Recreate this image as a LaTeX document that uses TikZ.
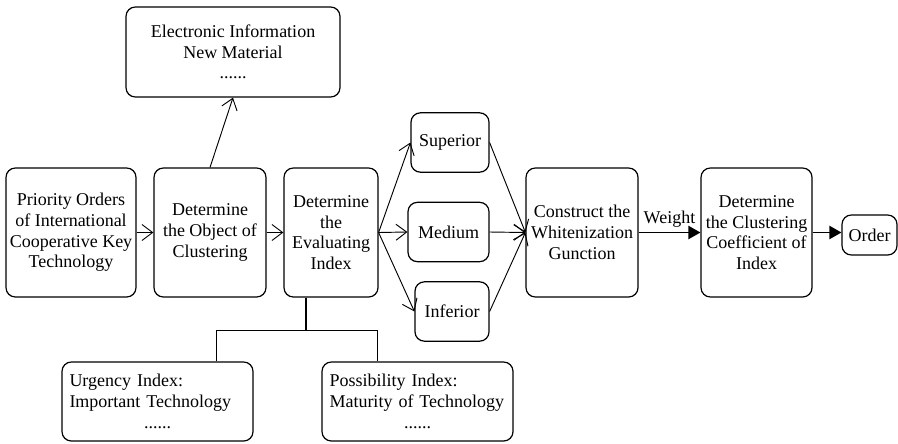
\documentclass[tikz,border=0pt]{standalone}
\usepackage{fontspec}
\setmainfont{Liberation Serif}
\usetikzlibrary{arrows.meta}

\begin{document}
\begin{tikzpicture}[x=0.75pt,y=-0.75pt,%
  font=\fontsize{13.5}{15.5}\selectfont,%
  box/.style={draw,rounded corners=7pt,line width=0.9pt,align=center,inner sep=2pt},%
  stage/.style={box,minimum height=96.75pt},%
  grade/.style={box,minimum height=44.5pt},%
  listbox/.style={box,minimum width=143.25pt,minimum height=59.25pt,%
    text width=132pt,align=left},%
  link/.style={-{Straight Barb[length=8pt,width=12pt]},line width=0.7pt},%
  flow/.style={-{Triangle[length=9pt,width=10pt]},line width=0.9pt}]

  \useasboundingbox (0,0) rectangle (898,443);

  % main chain
  \node [stage,minimum width=97.5pt] (prior) at (71,232.5)
    {Priority Orders\\of International\\Cooperative Key\\Technology};
  \node [stage,minimum width=84pt] (object) at (210,232.5)
    {Determine\\the Object of\\Clustering};
  \node [stage,minimum width=70.5pt] (index) at (331,232.5)
    {Determine\\the\\Evaluating\\Index};
  \node [stage,minimum width=84pt] (white) at (582,232.5)
    {Construct the\\Whitenization\\Gunction};
  \node [stage,minimum width=83.25pt] (coeff) at (756.5,232.5)
    {Determine\\the Clustering\\Coefficient of\\Index};
  \node [box,minimum width=41.25pt,minimum height=30pt] (order) at (869.5,235)
    {Order};

  % grades
  \node [grade,minimum width=58.5pt] (sup) at (450,142.5) {Superior};
  \node [grade,minimum width=60.75pt] (med) at (448.5,232) {Medium};
  \node [grade,minimum width=55.5pt] (inf) at (452,311.5) {Inferior};

  % objects and indexes
  \node [box,minimum width=160.5pt,minimum height=67.5pt] (info) at (233,52)
    {Electronic Information\\New Material\\......};
  \node [listbox] (urg) at (157.5,401.5)
    {Urgency Index:\\Important Technology\\\makebox[\linewidth]{......}};
  \node [listbox] (poss) at (417.5,401.5)
    {Possibility Index:\\Maturity of Technology\\\makebox[\linewidth]{......}};

  \draw [link] (prior) -- (object);
  \draw [link] (object) -- (index);
  \draw [link] (object.north) -- (info.south);

  \draw [link] (index.east) -- (sup.west);
  \draw [link] (index.east) -- (med.west);
  \draw [link] (index.east) -- (inf.west);
  \draw [link] (sup.east) -- (white.west);
  \draw [link] (med.east) -- (white.west);
  \draw [link] (inf.east) -- (white.west);

  \draw [flow] (white.east) -- node [above] {Weight} (coeff.west);
  \draw [flow] (coeff.east) -- (coeff.east -| order.west);

  % index tree
  \coordinate (fork) at (306,330);
  \coordinate (left) at (216,330);
  \coordinate (right) at (377,330);
  \draw [line width=1.6pt] (fork |- index.south) -- (fork);
  \draw [line width=0.7pt] (left |- urg.north) -- (left) -- (right)
    -- (right |- poss.north);
\end{tikzpicture}
\end{document}
